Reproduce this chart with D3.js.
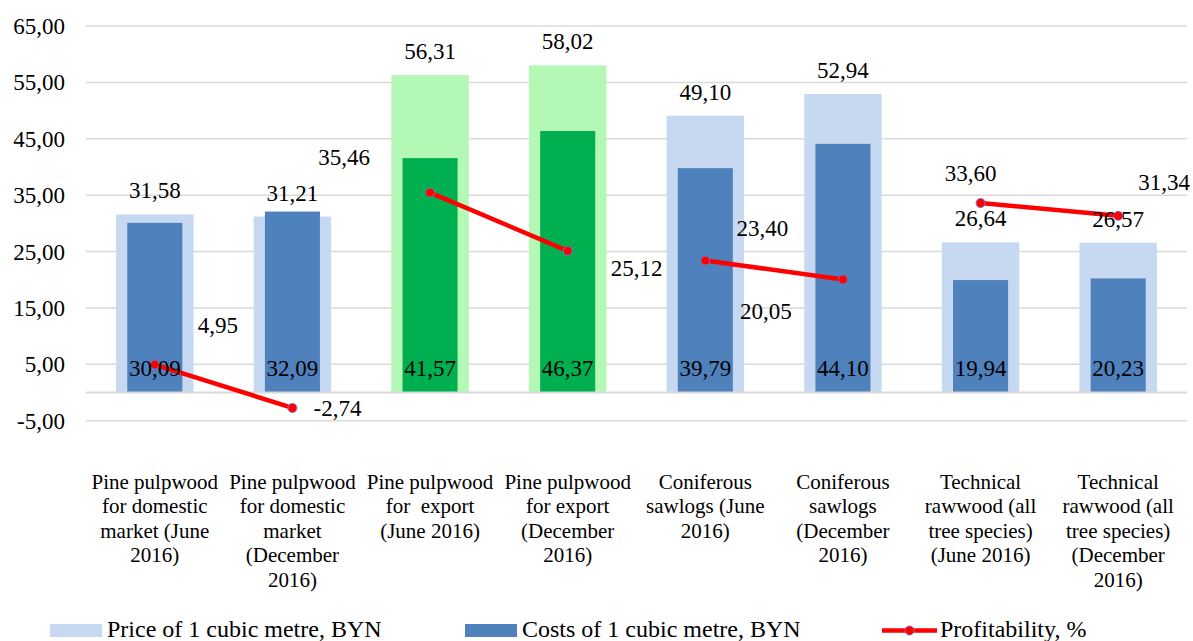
<!DOCTYPE html>
<html>
<head>
<meta charset="utf-8">
<script src="https://cdn.jsdelivr.net/npm/d3@7"></script>
<style>
  body { margin: 0; background: #fff; }
  svg text { font-family: "Liberation Serif", "Times New Roman", serif; fill: #000; }
</style>
</head>
<body>
<div id="chart"></div>
<script>
// categories (line breaks as in the original axis)
var categories = [
  "Pine pulpwood\nfor domestic\nmarket (June\n2016)",
  "Pine pulpwood\nfor domestic\nmarket\n(December\n2016)",
  "Pine pulpwood\nfor  export\n(June 2016)",
  "Pine pulpwood\nfor export\n(December\n2016)",
  "Coniferous\nsawlogs (June\n2016)",
  "Coniferous\nsawlogs\n(December\n2016)",
  "Technical\nrawwood (all\ntree species)\n(June 2016)",
  "Technical\nrawwood (all\ntree species)\n(December\n2016)"
];
var price = [31.58, 31.21, 56.31, 58.02, 49.10, 52.94, 26.64, 26.57];
var costs = [30.09, 32.09, 41.57, 46.37, 39.79, 44.10, 19.94, 20.23];
var profitability = [4.95, -2.74, 35.46, 25.12, 23.40, 20.05, 33.60, 31.34];
var exportCats = [2, 3];
var yTicks = [-5, 5, 15, 25, 35, 45, 55, 65];
var seriesNames = ["Price of 1 cubic metre, BYN", "Costs of 1 cubic metre, BYN", "Profitability, %"];

// manual label offsets for profitability labels (moved by hand in the original)
var profLabelOffset = [[63, -40], [45, 0], [-86, -36], [69, 17], [57, -33], [-77, 31], [-10, -30], [46, -34]];

var W = 1193, H = 641;
var plotLeft = 86, plotRight = 1187, plotTop = 26, plotBottom = 420.7;

var svg = d3.select("#chart").append("svg")
    .attr("width", W)
    .attr("height", H);

var x = d3.scaleBand()
    .domain(d3.range(categories.length))
    .range([plotLeft, plotRight]);
var y = d3.scaleLinear()
    .domain([-5, 65])
    .range([plotBottom, plotTop]);

var fmt = d3.formatLocale({decimal: ",", thousands: " ", grouping: [3], currency: ["", ""], minus: "-"}).format(".2f");

// gridlines
svg.append("g").selectAll("line").data(yTicks)
  .enter().append("line")
    .attr("x1", plotLeft).attr("x2", plotRight)
    .attr("y1", function(d) { return y(d); })
    .attr("y2", function(d) { return y(d); })
    .style("stroke", "#d9d9d9")
    .style("stroke-width", 1.5);

// y axis labels
svg.append("g").selectAll("text").data(yTicks)
  .enter().append("text")
    .attr("x", 65)
    .attr("y", function(d) { return y(d); })
    .attr("dy", "0.35em")
    .attr("text-anchor", "end")
    .style("font-size", "23px")
    .text(function(d) { return fmt(d); });

var step = x.step();
var priceW = step * 0.563, costW = step * 0.40;
function cx(i) { return x(i) + step / 2; }
function isExport(i) { return exportCats.indexOf(i) >= 0; }

// price bars
svg.append("g").selectAll("rect").data(price)
  .enter().append("rect")
    .attr("x", function(d, i) { return cx(i) - priceW / 2; })
    .attr("y", function(d) { return y(d); })
    .attr("width", priceW)
    .attr("height", function(d) { return y(0) - y(d); })
    .style("fill", function(d, i) { return isExport(i) ? "#b3f9b5" : "#c6d9f0"; });

// cost bars
svg.append("g").selectAll("rect").data(costs)
  .enter().append("rect")
    .attr("x", function(d, i) { return cx(i) - costW / 2; })
    .attr("y", function(d) { return y(d); })
    .attr("width", costW)
    .attr("height", function(d) { return y(0) - y(d); })
    .style("fill", function(d, i) { return isExport(i) ? "#00b050" : "#4f81bd"; });

// zero line
svg.append("line")
    .attr("x1", plotLeft).attr("x2", plotRight)
    .attr("y1", y(0)).attr("y2", y(0))
    .style("stroke", "#d9d9d9")
    .style("stroke-width", 2);

// profitability segments (June -> December pairs)
var line = d3.line()
    .x(function(d) { return cx(d); })
    .y(function(d) { return y(profitability[d]); });
var pairs = d3.range(0, categories.length, 2).map(function(i) { return [i, i + 1]; });
svg.append("g").selectAll("path").data(pairs)
  .enter().append("path")
    .attr("d", line)
    .style("fill", "none")
    .style("stroke", "#ff0000")
    .style("stroke-width", 4.5);

svg.append("g").selectAll("circle").data(profitability)
  .enter().append("circle")
    .attr("cx", function(d, i) { return cx(i); })
    .attr("cy", function(d) { return y(d); })
    .attr("r", 4.5)
    .style("fill", "#ff0000")
    .style("stroke", "#7f6fc0")
    .style("stroke-width", 1);

// price labels
svg.append("g").selectAll("text").data(price)
  .enter().append("text")
    .attr("x", function(d, i) { return cx(i); })
    .attr("y", function(d) { return y(d) - 24; })
    .attr("dy", "0.35em")
    .attr("text-anchor", "middle")
    .style("font-size", "23px")
    .text(function(d) { return fmt(d); });

// cost labels (inside base)
svg.append("g").selectAll("text").data(costs)
  .enter().append("text")
    .attr("x", function(d, i) { return cx(i); })
    .attr("y", y(0) - 24.5)
    .attr("dy", "0.35em")
    .attr("text-anchor", "middle")
    .style("font-size", "23px")
    .text(function(d) { return fmt(d); });

// profitability labels
svg.append("g").selectAll("text").data(profitability)
  .enter().append("text")
    .attr("x", function(d, i) { return cx(i) + profLabelOffset[i][0]; })
    .attr("y", function(d, i) { return y(d) + profLabelOffset[i][1]; })
    .attr("dy", "0.35em")
    .attr("text-anchor", "middle")
    .style("font-size", "23px")
    .text(function(d) { return fmt(d); });

// category labels
var catG = svg.append("g").selectAll("text").data(categories)
  .enter().append("text")
    .attr("x", function(d, i) { return cx(i); })
    .attr("y", 489)
    .attr("text-anchor", "middle")
    .style("font-size", "21px")
    .style("white-space", "pre");
catG.each(function(d, i) {
  var t = d3.select(this);
  d.split("\n").forEach(function(s, j) {
    t.append("tspan")
      .attr("x", cx(i))
      .attr("dy", j === 0 ? 0 : 24.4)
      .text(s);
  });
});

// legend
var legend = svg.append("g").attr("class", "legend");
var legX = [50, 465, 882];
legend.append("rect")
    .attr("x", legX[0]).attr("y", 624)
    .attr("width", 52).attr("height", 13)
    .style("fill", "#c6d9f0");
legend.append("rect")
    .attr("x", legX[1]).attr("y", 624)
    .attr("width", 52).attr("height", 13)
    .style("fill", "#4f81bd");
legend.append("line")
    .attr("x1", legX[2]).attr("x2", legX[2] + 55)
    .attr("y1", 630.5).attr("y2", 630.5)
    .style("stroke", "#ff0000")
    .style("stroke-width", 4.5);
legend.append("circle")
    .attr("cx", legX[2] + 27.5).attr("cy", 630.5)
    .attr("r", 4.5)
    .style("fill", "#ff0000")
    .style("stroke", "#7f6fc0")
    .style("stroke-width", 1);
legend.selectAll("text.leg").data(seriesNames)
  .enter().append("text")
    .attr("class", "leg")
    .attr("x", function(d, i) { return legX[i] + (i === 2 ? 58 : 57); })
    .attr("y", 636.5)
    .style("font-size", "24px")
    .text(function(d) { return d; });
</script>
</body>
</html>
